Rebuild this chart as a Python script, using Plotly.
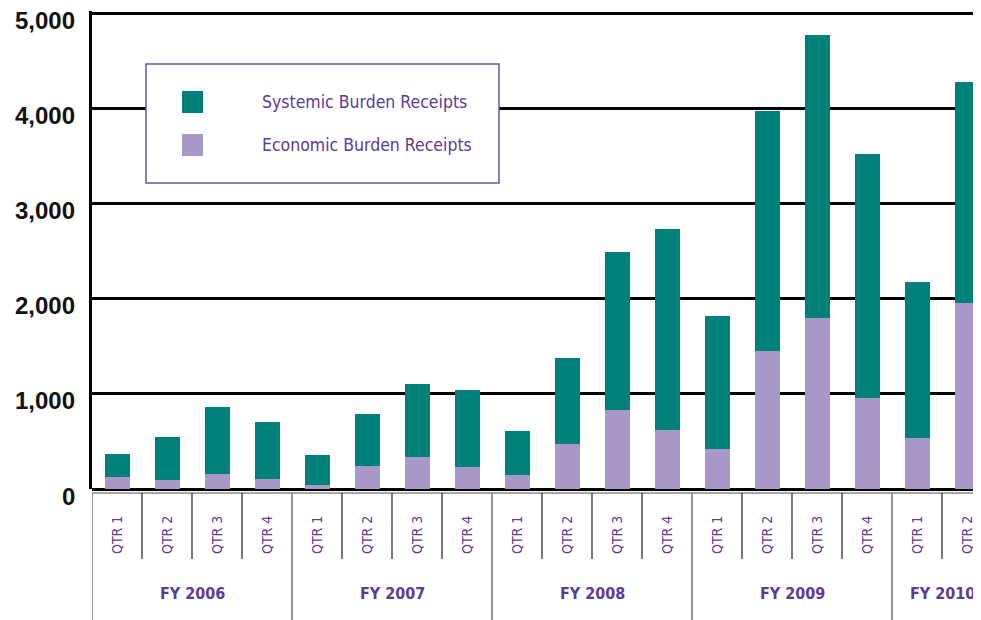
import plotly.graph_objects as go

# ---------------- data ----------------
quarters = ["QTR 1", "QTR 2", "QTR 3", "QTR 4",
            "QTR 1", "QTR 2", "QTR 3", "QTR 4",
            "QTR 1", "QTR 2", "QTR 3", "QTR 4",
            "QTR 1", "QTR 2", "QTR 3", "QTR 4",
            "QTR 1", "QTR 2"]
fiscal_years = ["FY 2006", "FY 2007", "FY 2008", "FY 2009", "FY 2010"]
quarters_per_year = [4, 4, 4, 4, 2]

economic = [127, 98, 158, 106, 42, 243, 338, 232, 145, 475, 834, 623,
            423, 1452, 1800, 958, 539, 1957]
systemic = [243, 451, 708, 601, 317, 549, 760, 803, 467, 898, 1658, 2112,
            1396, 2520, 2970, 2562, 1638, 2320]

series_names = ["Systemic Burden Receipts", "Economic Burden Receipts"]
y_ticks = [0, 1000, 2000, 3000, 4000, 5000]
y_tick_labels = ["0", "1,000", "2,000", "3,000", "4,000", "5,000"]

# ---------------- styles ----------------
TEAL = "#00807a"
LAVENDER = "#a898c8"
PURPLE = "#5b3a98"
NARROW = "DejaVu Sans Condensed, Liberation Sans Narrow, Arial Narrow, sans-serif"

OFF = 8                          # page body margin
W, H = 981 - OFF, 620 - OFF
L = 92 - OFF                     # left edge of plot area (figure px)
PLOT_BOTTOM = 489 - OFF          # y=0 baseline (figure px)
Y_TOP = 5021
T = 3
PW = W - L
PH = PLOT_BOTTOM - T
CELL = 50.0
XMAX = -0.5 + PW / CELL


def py(p):  # screen pixel y -> paper y
    return (PLOT_BOTTOM - (p - OFF)) / PH


def px(p):  # screen pixel x -> paper x
    return (p - OFF - L) / PW


xs = list(range(len(quarters)))

fig = go.Figure()
fig.add_trace(go.Bar(x=xs, y=economic, name=series_names[1], marker_color=LAVENDER,
                     marker_line_width=0, width=0.5, showlegend=False))
fig.add_trace(go.Bar(x=xs, y=systemic, name=series_names[0], marker_color=TEAL,
                     marker_line_width=0, width=0.5, showlegend=False))

shapes = []
annotations = []

# y tick labels
for v, lab in zip(y_ticks, y_tick_labels):
    annotations.append(dict(xref="paper", yref="y", x=0, y=v, text="<b>" + lab + "</b>",
                            showarrow=False, xanchor="right", yanchor="middle",
                            xshift=-15, yshift=-7,
                            font=dict(family="Liberation Sans, Arial, sans-serif", size=24,
                                      color="#111111")))

# bottom category table
table_top = py(493)
qtr_bottom = py(559)
table_bottom = py(640)
shapes.append(dict(type="line", xref="x", yref="paper", x0=-0.5, x1=XMAX + 1, y0=table_top,
                   y1=table_top, line=dict(color="#8a8a8a", width=1.5)))
idx = 0
boundaries = [-0.5]
for fy, n in zip(fiscal_years, quarters_per_year):
    start = idx
    for k in range(n):
        i = idx + k
        annotations.append(dict(xref="x", yref="paper", x=i, y=py(535), text=quarters[i],
                                showarrow=False, textangle=-90, xanchor="center",
                                yanchor="middle",
                                font=dict(family=NARROW, size=14, color=PURPLE)))
        if k < n - 1:
            shapes.append(dict(type="line", xref="x", yref="paper", x0=i + 0.5, x1=i + 0.5,
                               y0=table_top, y1=qtr_bottom,
                               line=dict(color="#222222", width=1.2)))
    idx += n
    boundaries.append(idx - 0.5)
    annotations.append(dict(xref="x", yref="paper", x=(start + idx - 1) / 2, y=py(593),
                            text="<b>" + fy + "</b>", showarrow=False, xanchor="center",
                            yanchor="middle",
                            font=dict(family=NARROW, size=16, color=PURPLE)))
for b in boundaries:
    shapes.append(dict(type="line", xref="x", yref="paper", x0=b, x1=b, y0=table_top,
                       y1=table_bottom, line=dict(color="#8a8a8a", width=1.8)))

# legend (drawn manually)
shapes.append(dict(type="rect", xref="paper", yref="paper", x0=px(146), x1=px(499),
                   y0=py(183), y1=py(64), fillcolor="white",
                   line=dict(color="#6b52a8", width=1.5), layer="above"))
for name, color, yc in [(series_names[0], TEAL, 102), (series_names[1], LAVENDER, 145)]:
    shapes.append(dict(type="rect", xref="paper", yref="paper", x0=px(182), x1=px(203),
                       y0=py(yc + 11), y1=py(yc - 11), fillcolor=color, line_width=0,
                       layer="above"))
    annotations.append(dict(xref="paper", yref="paper", x=px(260), y=py(yc), text=name,
                            showarrow=False, xanchor="left", yanchor="middle",
                            font=dict(family=NARROW, size=17.5, color=PURPLE)))

fig.update_layout(
    width=W, height=H,
    margin=dict(l=L, r=0, t=T, b=H - PLOT_BOTTOM, pad=0),
    paper_bgcolor="white", plot_bgcolor="white",
    barmode="stack",
    shapes=shapes, annotations=annotations,
    showlegend=False,
    xaxis=dict(range=[-0.5, XMAX], showticklabels=False, showgrid=False, zeroline=False,
               showline=False, ticks="", fixedrange=True),
    yaxis=dict(range=[0, Y_TOP], tickvals=y_ticks, showticklabels=False, showgrid=True,
               gridcolor="#000000", gridwidth=2.5, zeroline=True, zerolinecolor="#000000",
               zerolinewidth=3, showline=True, linecolor="#000000", linewidth=3, ticks="",
               fixedrange=True),
)

fig.write_html("out.html")
